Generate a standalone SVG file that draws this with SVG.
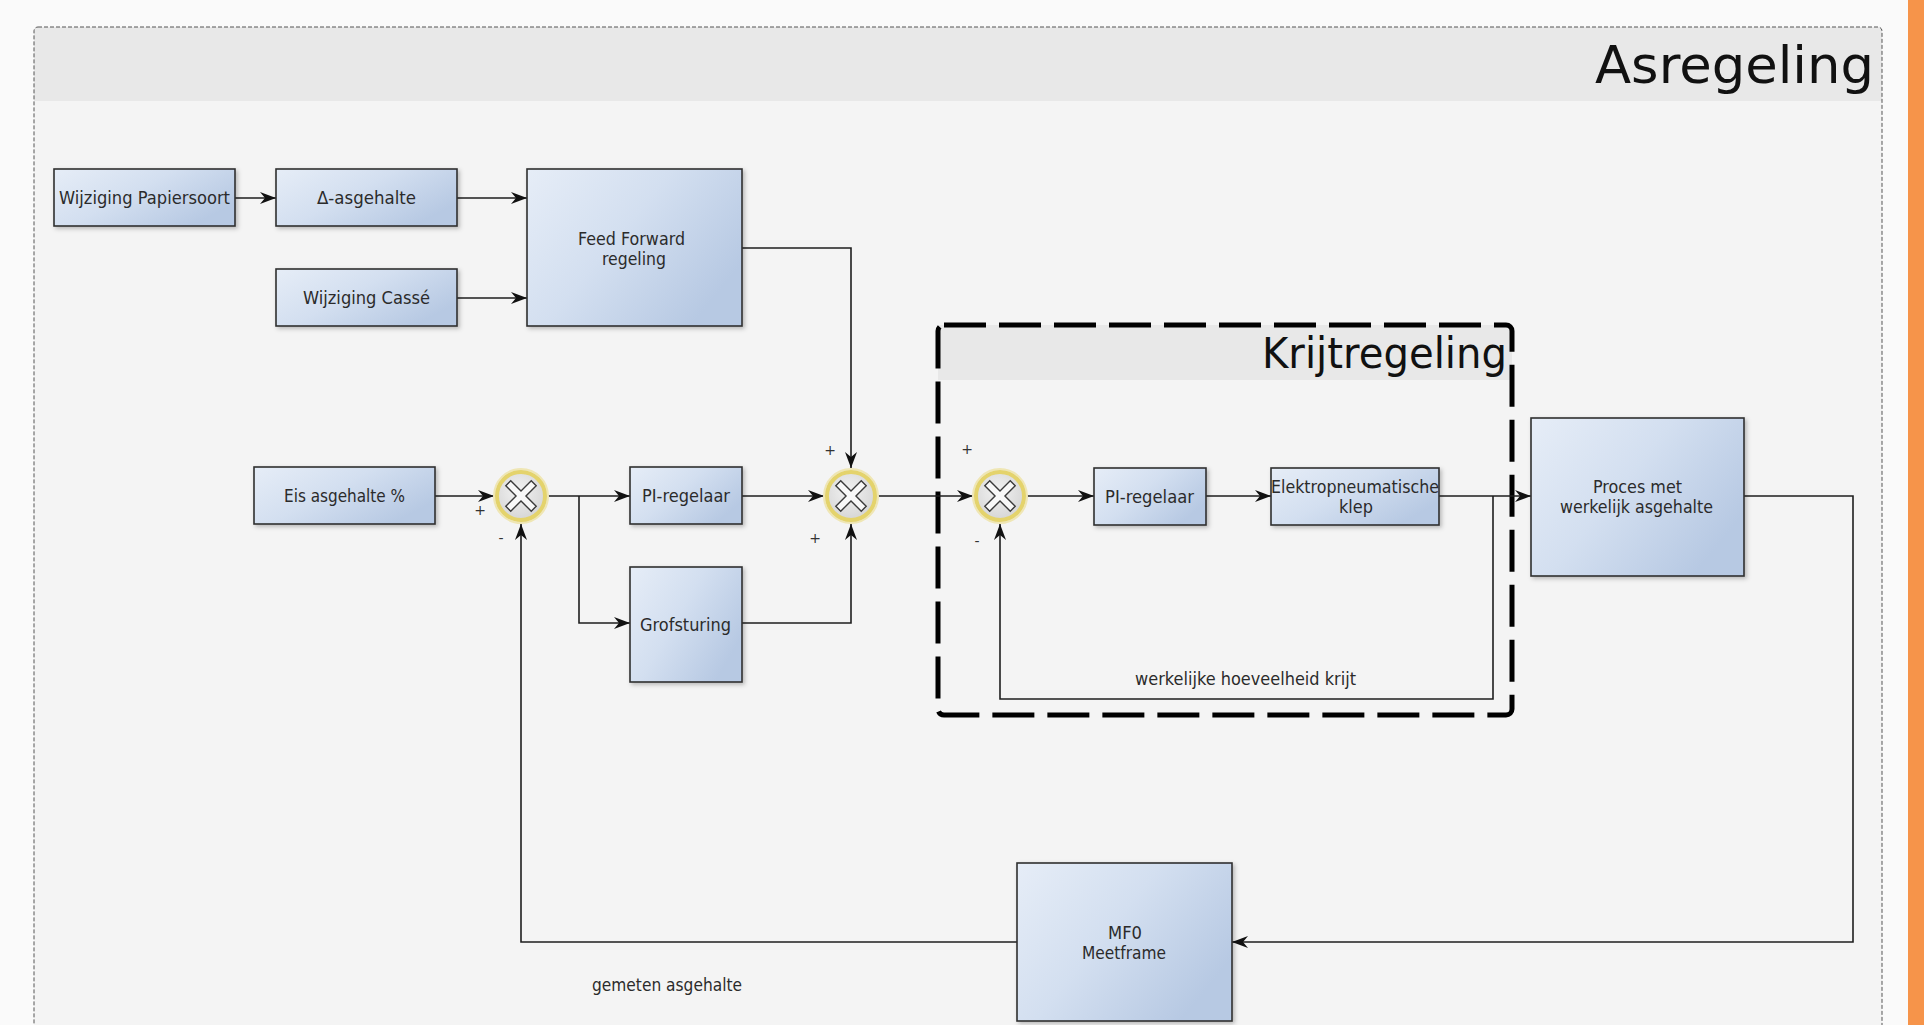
<svg xmlns="http://www.w3.org/2000/svg" width="1924" height="1025" viewBox="0 0 1924 1025">
  <style>
    .box { fill: url(#boxFill); stroke: #2f2f2f; stroke-width: 1.6; filter: url(#shadow); }
    .lbl { font-family: "DejaVu Sans", "Liberation Sans", sans-serif; font-size: 18px; fill: #2b2b2b; }
    .sign { font-family: "DejaVu Sans", "Liberation Sans", sans-serif; font-size: 14px; fill: #333; text-anchor: middle; }
    .title { font-family: "DejaVu Sans", "Liberation Sans", sans-serif; fill: #111; }
    .wire { fill: none; stroke: #1e1e1e; stroke-width: 1.6; }
    .arrow { marker-end: url(#arrowHead); }
    .ring { fill: url(#sumFill); stroke: #e4d36c; stroke-width: 4; }
    .halo { fill: none; stroke: #efe6b4; stroke-width: 2; }
    .cross { fill: #f8f8f8; stroke: #3a3a3a; stroke-width: 1.4; stroke-linejoin: miter; }
  </style>
  <defs>
    <linearGradient id="boxFill" x1="0" y1="0" x2="1" y2="0.6">
      <stop offset="0" stop-color="#e6edf7"/>
      <stop offset="0.5" stop-color="#d3dff0"/>
      <stop offset="1" stop-color="#b7c9e3"/>
    </linearGradient>
    <radialGradient id="sumFill" cx="0.45" cy="0.4" r="0.6">
      <stop offset="0" stop-color="#f2f2f2"/>
      <stop offset="1" stop-color="#d6d6d6"/>
    </radialGradient>
    <filter id="shadow" x="-10%" y="-10%" width="125%" height="125%">
      <feDropShadow dx="2" dy="2" stdDeviation="2" flood-color="#000" flood-opacity="0.25"/>
    </filter>
    <marker id="arrowHead" viewBox="0 0 16 12" markerWidth="16" markerHeight="12" refX="16" refY="6" orient="auto" markerUnits="userSpaceOnUse">
      <path d="M0,0 L16,6 L0,12 L5,6 z" fill="#111"/>
    </marker>
    <!-- summing junction: ring with hollow cross -->
    <g id="sum">
      <circle r="27" class="halo"/>
      <circle r="24" class="ring"/>
      <polygon class="cross" transform="rotate(45)" points="-3.5,-18 3.5,-18 3.5,-3.5 18,-3.5 18,3.5 3.5,3.5 3.5,18 -3.5,18 -3.5,3.5 -18,3.5 -18,-3.5 -3.5,-3.5"/>
    </g>
  </defs>

  <!-- page -->
  <rect x="0" y="0" width="1924" height="1025" fill="#fafafa"/>
  <rect x="1908" y="0" width="16" height="1025" fill="#f6944a"/>

  <!-- outer pool: Asregeling -->
  <g id="asregeling">
    <rect x="34" y="27" width="1848" height="1010" rx="4" fill="#f4f4f4"/>
    <path d="M34,101 V31 Q34,27 38,27 H1878 Q1882,27 1882,31 V101 Z" fill="#e8e8e8"/>
    <rect x="34" y="27" width="1848" height="1010" rx="4" fill="none" stroke="#555" stroke-width="1" stroke-dasharray="4 2"/>
    <text class="title" x="1595" y="83" font-size="52" textLength="279" lengthAdjust="spacingAndGlyphs">Asregeling</text>
  </g>

  <!-- inner pool: Krijtregeling -->
  <g id="krijtregeling">
    <rect x="938" y="325" width="574" height="55" fill="#e8e8e8"/>
    <rect x="938" y="325" width="574" height="390" rx="6" fill="none" stroke="#000" stroke-width="5" stroke-dasharray="42 13"/>
    <text class="title" x="1262" y="368" font-size="42" textLength="245" lengthAdjust="spacingAndGlyphs">Krijtregeling</text>
  </g>

  <!-- connectors -->
  <g id="connectors">
    <path class="wire arrow" d="M235,198 H276"/>
    <path class="wire arrow" d="M457,198 H527"/>
    <path class="wire arrow" d="M457,298 H527"/>
    <path class="wire arrow" d="M742,248 H851 V468"/>
    <path class="wire arrow" d="M435,496 H494"/>
    <path class="wire arrow" d="M548,496 H630"/>
    <path class="wire arrow" d="M579,496 V623 H630"/>
    <path class="wire arrow" d="M742,496 H824"/>
    <path class="wire arrow" d="M742,623 H851 V524"/>
    <path class="wire arrow" d="M878,496 H973"/>
    <path class="wire arrow" d="M1027,496 H1094"/>
    <path class="wire arrow" d="M1206,496 H1271"/>
    <path class="wire arrow" d="M1439,496 H1531"/>
    <path class="wire arrow" d="M1493,496 V699 H1000 V524"/>
    <path class="wire arrow" d="M1744,496 H1853 V942 H1232"/>
    <path class="wire arrow" d="M1017,942 H521 V524"/>
    <text class="lbl" x="1135" y="685" textLength="221" lengthAdjust="spacingAndGlyphs">werkelijke hoeveelheid krijt</text>
    <text class="lbl" x="592" y="991" textLength="150" lengthAdjust="spacingAndGlyphs">gemeten asgehalte</text>
  </g>

  <!-- blocks -->
  <g id="wijziging-papiersoort">
    <rect class="box" x="54" y="169" width="181" height="57"/>
    <text class="lbl" x="59" y="204" textLength="171" lengthAdjust="spacingAndGlyphs">Wijziging Papiersoort</text>
  </g>
  <g id="delta-asgehalte">
    <rect class="box" x="276" y="169" width="181" height="57"/>
    <text class="lbl" x="317" y="204" textLength="99" lengthAdjust="spacingAndGlyphs">Δ-asgehalte</text>
  </g>
  <g id="wijziging-casse">
    <rect class="box" x="276" y="269" width="181" height="57"/>
    <text class="lbl" x="303" y="304" textLength="127" lengthAdjust="spacingAndGlyphs">Wijziging Cassé</text>
  </g>
  <g id="feed-forward">
    <rect class="box" x="527" y="169" width="215" height="157"/>
    <text class="lbl" x="578" y="245" textLength="107" lengthAdjust="spacingAndGlyphs">Feed Forward</text>
    <text class="lbl" x="602" y="265" textLength="64" lengthAdjust="spacingAndGlyphs">regeling</text>
  </g>
  <g id="eis-asgehalte">
    <rect class="box" x="254" y="467" width="181" height="57"/>
    <text class="lbl" x="284" y="502" textLength="121" lengthAdjust="spacingAndGlyphs">Eis asgehalte %</text>
  </g>
  <g id="pi-regelaar-1">
    <rect class="box" x="630" y="467" width="112" height="57"/>
    <text class="lbl" x="642" y="502" textLength="88" lengthAdjust="spacingAndGlyphs">PI-regelaar</text>
  </g>
  <g id="grofsturing">
    <rect class="box" x="630" y="567" width="112" height="115"/>
    <text class="lbl" x="640" y="631" textLength="91" lengthAdjust="spacingAndGlyphs">Grofsturing</text>
  </g>
  <g id="pi-regelaar-2">
    <rect class="box" x="1094" y="468" width="112" height="57"/>
    <text class="lbl" x="1105" y="503" textLength="89" lengthAdjust="spacingAndGlyphs">PI-regelaar</text>
  </g>
  <g id="elektropneumatische-klep">
    <rect class="box" x="1271" y="468" width="168" height="57"/>
    <text class="lbl" x="1271" y="493" textLength="168" lengthAdjust="spacingAndGlyphs">Elektropneumatische</text>
    <text class="lbl" x="1339" y="513" textLength="34" lengthAdjust="spacingAndGlyphs">klep</text>
  </g>
  <g id="proces">
    <rect class="box" x="1531" y="418" width="213" height="158"/>
    <text class="lbl" x="1593" y="493" textLength="89" lengthAdjust="spacingAndGlyphs">Proces met</text>
    <text class="lbl" x="1560" y="513" textLength="153" lengthAdjust="spacingAndGlyphs">werkelijk asgehalte</text>
  </g>
  <g id="mf0-meetframe">
    <rect class="box" x="1017" y="863" width="215" height="158"/>
    <text class="lbl" x="1108" y="939" textLength="34" lengthAdjust="spacingAndGlyphs">MF0</text>
    <text class="lbl" x="1082" y="959" textLength="84" lengthAdjust="spacingAndGlyphs">Meetframe</text>
  </g>

  <!-- summing junctions -->
  <g id="sum-1">
    <use href="#sum" x="521" y="496"/>
    <text class="sign" x="480" y="515">+</text>
    <text class="sign" x="501" y="543">-</text>
  </g>
  <g id="sum-2">
    <use href="#sum" x="851" y="496"/>
    <text class="sign" x="830" y="455">+</text>
    <text class="sign" x="815" y="543">+</text>
  </g>
  <g id="sum-3">
    <use href="#sum" x="1000" y="496"/>
    <text class="sign" x="967" y="454">+</text>
    <text class="sign" x="977" y="546">-</text>
  </g>
</svg>
